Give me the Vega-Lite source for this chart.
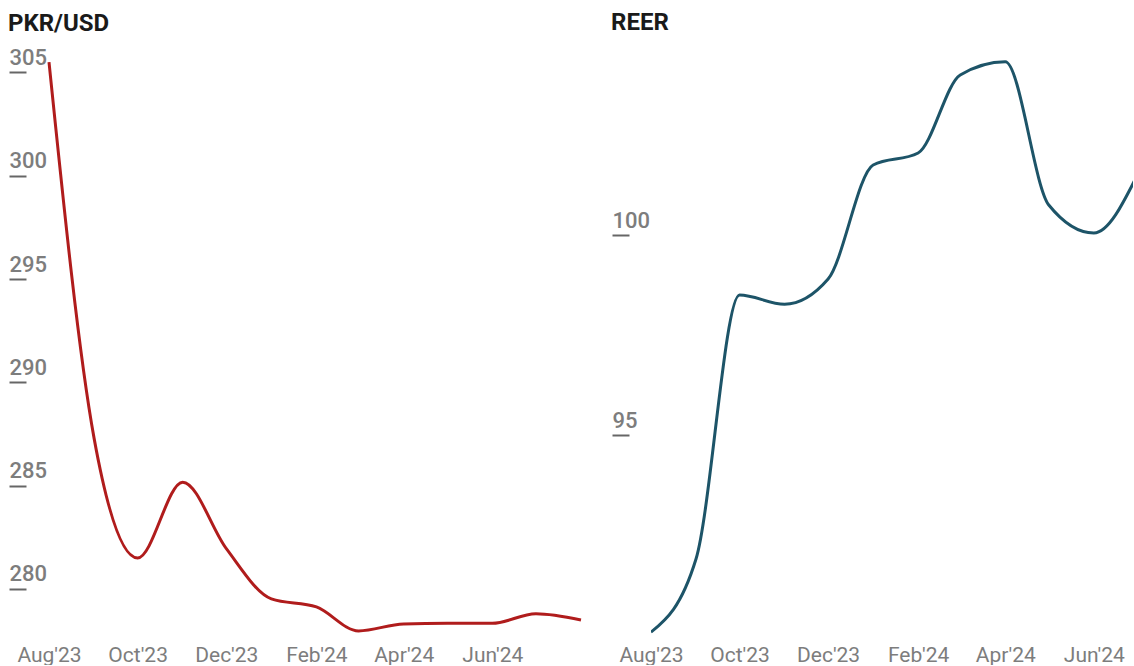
{
  "$schema": "https://vega.github.io/schema/vega-lite/v6.json",
  "background": "white",
  "padding": {"left": 8, "top": 11, "right": 0, "bottom": 0},
  "spacing": 24,
  "config": {
    "view": {"stroke": null},
    "font": "Roboto",
    "axis": {
      "grid": false,
      "domain": false,
      "labelFont": "Roboto",
      "labelFontSize": 21,
      "labelColor": "#7d7d7d",
      "labelFontWeight": 500
    },
    "title": {
      "font": "Roboto",
      "fontSize": 24,
      "fontWeight": "bold",
      "color": "#1a1a1a",
      "anchor": "start",
      "frame": "bounds"
    }
  },
  "datasets": {
    "pkr": [
      {"date": "2023-08-01", "value": 305.5},
      {"date": "2023-09-01", "value": 287.3},
      {"date": "2023-10-01", "value": 281.5},
      {"date": "2023-11-01", "value": 285.17},
      {"date": "2023-12-01", "value": 281.95},
      {"date": "2024-01-01", "value": 279.52},
      {"date": "2024-02-01", "value": 279.13},
      {"date": "2024-03-01", "value": 277.97},
      {"date": "2024-04-01", "value": 278.31},
      {"date": "2024-05-01", "value": 278.34},
      {"date": "2024-06-01", "value": 278.34},
      {"date": "2024-07-01", "value": 278.8},
      {"date": "2024-08-01", "value": 278.5}
    ],
    "reer": [
      {"date": "2023-08-01", "value": 90.07},
      {"date": "2023-09-01", "value": 91.9},
      {"date": "2023-10-01", "value": 98.5},
      {"date": "2023-11-01", "value": 98.27},
      {"date": "2023-12-01", "value": 98.9},
      {"date": "2024-01-01", "value": 101.75},
      {"date": "2024-02-01", "value": 102.05},
      {"date": "2024-03-01", "value": 104.0},
      {"date": "2024-04-01", "value": 104.33},
      {"date": "2024-05-01", "value": 100.75},
      {"date": "2024-06-01", "value": 100.05},
      {"date": "2024-07-01", "value": 101.5}
    ]
  },
  "hconcat": [
    {
      "title": {"text": "PKR/USD", "offset": 10},
      "width": 532,
      "height": 580,
      "data": {"name": "pkr"},
      "mark": {"type": "line", "interpolate": "monotone", "color": "#b01c1c", "strokeWidth": 3},
      "encoding": {
        "x": {
          "field": "date",
          "type": "temporal",
          "title": null,
          "scale": {
            "type": "utc",
            "domain": [
              {"year": 2023, "month": 8, "date": 1, "utc": true},
              {"year": 2024, "month": 8, "date": 1, "utc": true}
            ]
          },
          "axis": {
            "values": [
              {"year": 2023, "month": 8, "date": 1, "utc": true},
              {"year": 2023, "month": 10, "date": 1, "utc": true},
              {"year": 2023, "month": 12, "date": 1, "utc": true},
              {"year": 2024, "month": 2, "date": 1, "utc": true},
              {"year": 2024, "month": 4, "date": 1, "utc": true},
              {"year": 2024, "month": 6, "date": 1, "utc": true}
            ],
            "labelExpr": "utcFormat(datum.value, \"%b'%y\")",
            "labelOverlap": false,
            "labelFlush": false,
            "ticks": false,
            "labelPadding": 4,
            "labelFontWeight": 400
          }
        },
        "y": {
          "field": "value",
          "type": "quantitative",
          "title": null,
          "scale": {"domain": [277.53, 305.6], "nice": false, "zero": false},
          "axis": {
            "values": [280, 285, 290, 295, 300, 305],
            "offset": 23,
            "tickSize": 17,
            "tickWidth": 2,
            "tickColor": "#666666",
            "labelAlign": "left",
            "labelBaseline": "alphabetic",
            "labelPadding": 0,
            "labelOffset": -8,
            "labelFontSize": 22
          }
        }
      }
    },
    {
      "title": {"text": "REER", "offset": 25},
      "width": 482,
      "height": 580,
      "data": {"name": "reer"},
      "mark": {"type": "line", "interpolate": "monotone", "color": "#1d5468", "strokeWidth": 3, "clip": true},
      "encoding": {
        "x": {
          "field": "date",
          "type": "temporal",
          "title": null,
          "scale": {
            "type": "utc",
            "domain": [
              {"year": 2023, "month": 8, "date": 1, "utc": true},
              {"year": 2024, "month": 6, "date": 28, "utc": true}
            ]
          },
          "axis": {
            "values": [
              {"year": 2023, "month": 8, "date": 1, "utc": true},
              {"year": 2023, "month": 10, "date": 1, "utc": true},
              {"year": 2023, "month": 12, "date": 1, "utc": true},
              {"year": 2024, "month": 2, "date": 1, "utc": true},
              {"year": 2024, "month": 4, "date": 1, "utc": true},
              {"year": 2024, "month": 6, "date": 1, "utc": true}
            ],
            "labelExpr": "utcFormat(datum.value, \"%b'%y\")",
            "labelOverlap": false,
            "labelFlush": false,
            "ticks": false,
            "labelPadding": 4,
            "labelFontWeight": 400
          }
        },
        "y": {
          "field": "value",
          "type": "quantitative",
          "title": null,
          "scale": {"domain": [89.875, 104.375], "nice": false, "zero": false},
          "axis": {
            "values": [95, 100],
            "offset": 22,
            "tickSize": 17,
            "tickWidth": 2,
            "tickColor": "#666666",
            "labelAlign": "left",
            "labelBaseline": "alphabetic",
            "labelPadding": 0,
            "labelOffset": -8,
            "labelFontSize": 22
          }
        }
      }
    }
  ]
}
